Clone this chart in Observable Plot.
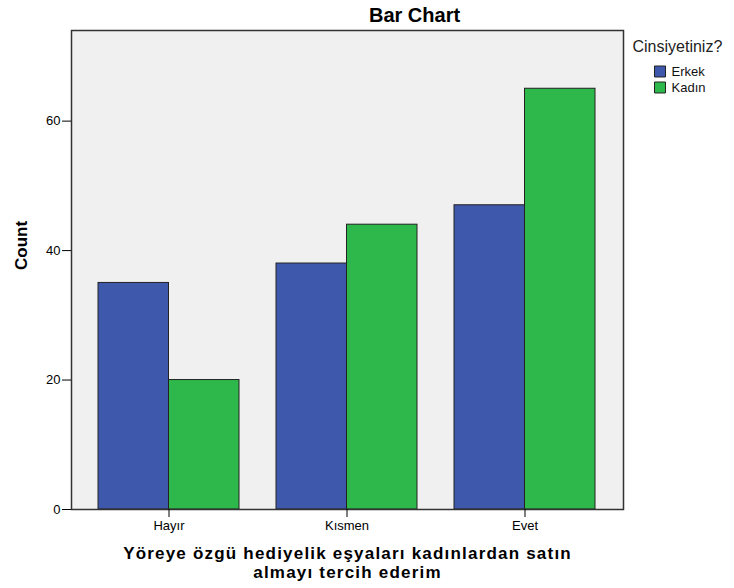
<!DOCTYPE html>
<html><head><meta charset="utf-8">
<script src="https://cdn.jsdelivr.net/npm/d3@7"></script>
<script src="https://cdn.jsdelivr.net/npm/@observablehq/plot@0.6"></script>
<style>
body{margin:0;background:#fff;}
#chart svg{display:block;}
</style>
</head><body><div id="chart"></div>
<script>
const categories = ["Hayır", "Kısmen", "Evet"];
const genders = ["Erkek", "Kadın"];
const erkekCounts = [35, 38, 47];
const kadinCounts = [20, 44, 65];
const yTicks = [0, 20, 40, 60];
const genderColors = ["#3e58ac", "#2eb84b"];
const chartTitle = "Bar Chart";
const xTitleLines = ["Yöreye özgü hediyelik eşyaları kadınlardan satın", "almayı tercih ederim"];
const yTitle = "Count";
const legendTitle = "Cinsiyetiniz?";

const rows = [
  ...categories.map((c, i) => ({cat: c, gender: genders[0], count: erkekCounts[i]})),
  ...categories.map((c, i) => ({cat: c, gender: genders[1], count: kadinCounts[i]}))
];

const FONT = "'Liberation Sans', Arial, Helvetica, sans-serif";
const W = 734, H = 588;
const margins = {marginLeft: 71, marginRight: 111, marginTop: 30, marginBottom: 79};
const xScale = {domain: categories, paddingInner: 0.206, paddingOuter: 0.148};
const yScale = {domain: [0, 74]};
const colorScale = {domain: genders, range: genderColors};

// first pass: measure the band width from Plot's own scale
const probe = Plot.plot({width: W, height: H, ...margins, x: xScale, y: yScale,
  marks: [Plot.barY(rows, {x: "cat", y: "count"})]});
const half = probe.scale("x").bandwidth / 2;

function legendMarks() {
  return genders.flatMap((g, i) => [
    Plot.dot([g], {frameAnchor: "top-right", dx: 36.5, dy: 41 + i * 16, symbol: "square", r: 6.2,
      fill: d => d, stroke: "#222", strokeWidth: 1}),
    Plot.text([g], {frameAnchor: "top-right", dx: 48, dy: 41 + i * 16, textAnchor: "start",
      lineAnchor: "middle", fontSize: 13, fill: "#111"})
  ]);
}

const chart = Plot.plot({
  width: W, height: H, ...margins,
  style: {fontFamily: FONT, fontSize: "13px", color: "#000", background: "#fff"},
  x: {...xScale, axis: null},
  y: {...yScale, axis: null},
  color: colorScale,
  marks: [
    Plot.frame({fill: "#f0f0f0"}),
    Plot.barY(rows.filter(d => d.gender === genders[0]), {x: "cat", y: "count", fill: "gender",
      stroke: "#222", strokeWidth: 1, insetRight: half}),
    Plot.barY(rows.filter(d => d.gender === genders[1]), {x: "cat", y: "count", fill: "gender",
      stroke: "#222", strokeWidth: 1, insetLeft: half}),
    Plot.frame({stroke: "#333", strokeWidth: 1.5}),
    Plot.axisY(yTicks, {tickSize: 9, tickPadding: 2, label: null, fontSize: 13, stroke: "#000"}),
    Plot.axisX({tickSize: 8, tickPadding: 3, label: null, fontSize: 13, stroke: "#000"}),
    Plot.text([chartTitle], {frameAnchor: "top", lineAnchor: "middle", dx: 67, dy: -15, fontSize: 20,
      fontWeight: "bold", fill: "#000"}),
    Plot.text([yTitle], {frameAnchor: "left", dx: -50, rotate: -90, fontSize: 17, fontWeight: "bold", fill: "#000"}),
    Plot.text([xTitleLines.join("\n")], {frameAnchor: "bottom", lineAnchor: "middle", dy: 53, lineHeight: 1.08,
      fontSize: 17, fontWeight: "bold", fill: "#000"}),
    Plot.text([legendTitle], {frameAnchor: "top-right", lineAnchor: "middle", dx: 9, dy: 16, textAnchor: "start",
      fontSize: 16, fill: "#222"}),
    ...legendMarks()
  ]
});
// widen the x-axis title a little, as in the reference rendering
d3.select(chart).selectAll("text")
  .filter(function() { return this.textContent.includes(xTitleLines[1]); })
  .attr("letter-spacing", "1.2px")
  .style("letter-spacing", "1.2px");
document.getElementById("chart").appendChild(chart);
</script>
</body></html>
